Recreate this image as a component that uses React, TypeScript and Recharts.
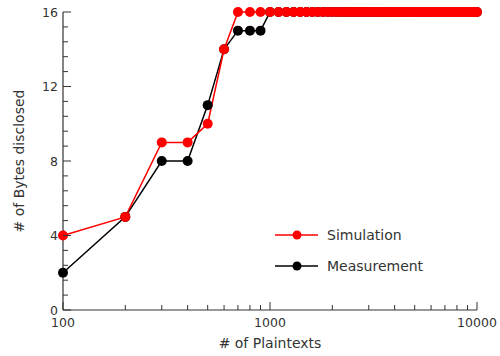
import React from 'react';
import { LineChart, Line, XAxis, YAxis, Label } from 'recharts';

// # of plaintexts (x), log scale
const plaintexts = [
  100, 200, 300, 400, 500, 600, 700, 800, 900, 1000,
  1100, 1200, 1300, 1400, 1500, 1600, 1700, 1800, 1900, 2000,
  2100, 2200, 2300, 2400, 2500, 2600, 2700, 2800, 2900, 3000,
  3100, 3200, 3300, 3400, 3500, 3600, 3700, 3800, 3900, 4000,
  4100, 4200, 4300, 4400, 4500, 4600, 4700, 4800, 4900, 5000,
  5100, 5200, 5300, 5400, 5500, 5600, 5700, 5800, 5900, 6000,
  6100, 6200, 6300, 6400, 6500, 6600, 6700, 6800, 6900, 7000,
  7100, 7200, 7300, 7400, 7500, 7600, 7700, 7800, 7900, 8000,
  8100, 8200, 8300, 8400, 8500, 8600, 8700, 8800, 8900, 9000,
  9100, 9200, 9300, 9400, 9500, 9600, 9700, 9800, 9900, 10000,
];

const simulation = [
  4, 5, 9, 9, 10, 14, 16, 16, 16, 16,
  16, 16, 16, 16, 16, 16, 16, 16, 16, 16,
  16, 16, 16, 16, 16, 16, 16, 16, 16, 16,
  16, 16, 16, 16, 16, 16, 16, 16, 16, 16,
  16, 16, 16, 16, 16, 16, 16, 16, 16, 16,
  16, 16, 16, 16, 16, 16, 16, 16, 16, 16,
  16, 16, 16, 16, 16, 16, 16, 16, 16, 16,
  16, 16, 16, 16, 16, 16, 16, 16, 16, 16,
  16, 16, 16, 16, 16, 16, 16, 16, 16, 16,
  16, 16, 16, 16, 16, 16, 16, 16, 16, 16,
];

const measurement = [
  2, 5, 8, 8, 11, 14, 15, 15, 15, 16,
  16, 16, 16, 16, 16, 16, 16, 16, 16, 16,
  16, 16, 16, 16, 16, 16, 16, 16, 16, 16,
  16, 16, 16, 16, 16, 16, 16, 16, 16, 16,
  16, 16, 16, 16, 16, 16, 16, 16, 16, 16,
  16, 16, 16, 16, 16, 16, 16, 16, 16, 16,
  16, 16, 16, 16, 16, 16, 16, 16, 16, 16,
  16, 16, 16, 16, 16, 16, 16, 16, 16, 16,
  16, 16, 16, 16, 16, 16, 16, 16, 16, 16,
  16, 16, 16, 16, 16, 16, 16, 16, 16, 16,
];

const xTicks = [100, 200, 300, 400, 500, 600, 700, 800, 900, 1000, 2000, 3000, 4000, 5000, 6000, 7000, 8000, 9000, 10000];
const xMajor = [100, 1000, 10000];
const yTicks = [0, 0.8, 1.6, 2.4, 3.2, 4, 4.8, 5.6, 6.4, 7.2, 8, 8.8, 9.6, 10.4, 11.2, 12, 12.8, 13.6, 14.4, 15.2, 16];
const yMajor = [0, 4, 8, 12, 16];

const data = plaintexts.map((n, i) => ({ n, sim: simulation[i], meas: measurement[i] }));

const AXIS = '#333';
const TEXT = '#333';
const FONT = '"DejaVu Sans", Verdana, sans-serif';
const isMajorY = (v: number) => yMajor.some((m) => Math.abs(m - v) < 1e-6);

const BottomTick = ({ x, y, payload }: any) => {
  const major = xMajor.includes(payload.value);
  return (
    <g>
      <line x1={x} y1={y} x2={x} y2={y - (major ? 8 : 5)} stroke={AXIS} strokeWidth={1} />
      {major && (
        <text x={x} y={y + 17} textAnchor="middle" fontSize={12.5} fill={TEXT} fontFamily={FONT}>
          {payload.value}
        </text>
      )}
    </g>
  );
};

const TopTick = ({ x, y, payload }: any) => {
  const major = xMajor.includes(payload.value);
  return <line x1={x} y1={y} x2={x} y2={y + (major ? 8 : 5)} stroke={AXIS} strokeWidth={1} />;
};

const LeftTick = ({ x, y, payload }: any) => {
  const major = isMajorY(payload.value);
  return (
    <g>
      <line x1={x} y1={y} x2={x + (major ? 8 : 5)} y2={y} stroke={AXIS} strokeWidth={1} />
      {major && (
        <text x={x - 5} y={y + 4.5} textAnchor="end" fontSize={12.5} fill={TEXT} fontFamily={FONT}>
          {payload.value}
        </text>
      )}
    </g>
  );
};

const RightTick = ({ x, y, payload }: any) => {
  const major = isMajorY(payload.value);
  return <line x1={x} y1={y} x2={x - (major ? 8 : 5)} y2={y} stroke={AXIS} strokeWidth={1} />;
};

const legendItems = [
  { label: 'Simulation', color: '#ff0000' },
  { label: 'Measurement', color: '#000000' },
];

const LegendBox = () => (
  <div style={{ position: 'absolute', left: 275, top: 219, fontFamily: FONT, fontSize: 14, color: TEXT }}>
    {legendItems.map((it) => (
      <div key={it.label} style={{ display: 'flex', alignItems: 'center', height: 31 }}>
        <svg width={44} height={12} style={{ marginRight: 8 }}>
          <line x1={0} y1={6} x2={43} y2={6} stroke={it.color} strokeWidth={1.5} />
          <circle cx={22} cy={6} r={4.5} fill={it.color} />
        </svg>
        <span>{it.label}</span>
      </div>
    ))}
  </div>
);

export default function App() {
  return (
    <div style={{ position: 'absolute', left: 0, top: 0, width: 500, height: 356, background: '#fff' }}>
      <LineChart width={500} height={356} data={data} margin={{ top: 12, right: 23, bottom: 16, left: 0 }}>
        <XAxis
          dataKey="n"
          type="number"
          scale="log"
          domain={[100, 10000]}
          ticks={xTicks}
          interval={0}
          tickSize={0}
          tickMargin={0}
          tickLine={false}
          tick={<BottomTick />}
          axisLine={{ stroke: AXIS, strokeWidth: 1.2 }}
          height={30}
        >
          <Label
            content={({ viewBox }: any) => (
              <text
                x={viewBox.x + viewBox.width / 2}
                y={348}
                textAnchor="middle"
                fontSize={14}
                fill={TEXT}
                fontFamily={FONT}
              >
                # of Plaintexts
              </text>
            )}
          />
        </XAxis>
        <XAxis
          xAxisId="top"
          orientation="top"
          dataKey="n"
          type="number"
          scale="log"
          domain={[100, 10000]}
          ticks={xTicks}
          interval={0}
          tickSize={0}
          tickMargin={0}
          tickLine={false}
          tick={<TopTick />}
          axisLine={{ stroke: AXIS, strokeWidth: 1.2 }}
          height={0}
        />
        <YAxis
          type="number"
          domain={[0, 16]}
          ticks={yTicks}
          interval={0}
          tickSize={0}
          tickMargin={0}
          tickLine={false}
          tick={<LeftTick />}
          axisLine={{ stroke: AXIS, strokeWidth: 1.2 }}
          width={63}
        >
          <Label
            content={({ viewBox }: any) => {
              const cy = viewBox.y + viewBox.height / 2;
              return (
                <text
                  x={24}
                  y={cy}
                  transform={`rotate(-90, 24, ${cy})`}
                  textAnchor="middle"
                  fontSize={14}
                  fill={TEXT}
                  fontFamily={FONT}
                >
                  # of Bytes disclosed
                </text>
              );
            }}
          />
        </YAxis>
        <YAxis
          yAxisId="right"
          orientation="right"
          type="number"
          domain={[0, 16]}
          ticks={yTicks}
          interval={0}
          tickSize={0}
          tickMargin={0}
          tickLine={false}
          tick={<RightTick />}
          axisLine={{ stroke: AXIS, strokeWidth: 1.2 }}
          width={0}
        />
        <Line
          dataKey="meas"
          name="Measurement"
          stroke="#000000"
          strokeWidth={1.5}
          dot={{ r: 5, fill: '#000000', stroke: 'none' }}
          isAnimationActive={false}
        />
        <Line
          dataKey="sim"
          name="Simulation"
          stroke="#ff0000"
          strokeWidth={1.5}
          dot={{ r: 5, fill: '#ff0000', stroke: 'none' }}
          isAnimationActive={false}
        />
      </LineChart>
      <LegendBox />
    </div>
  );
}
